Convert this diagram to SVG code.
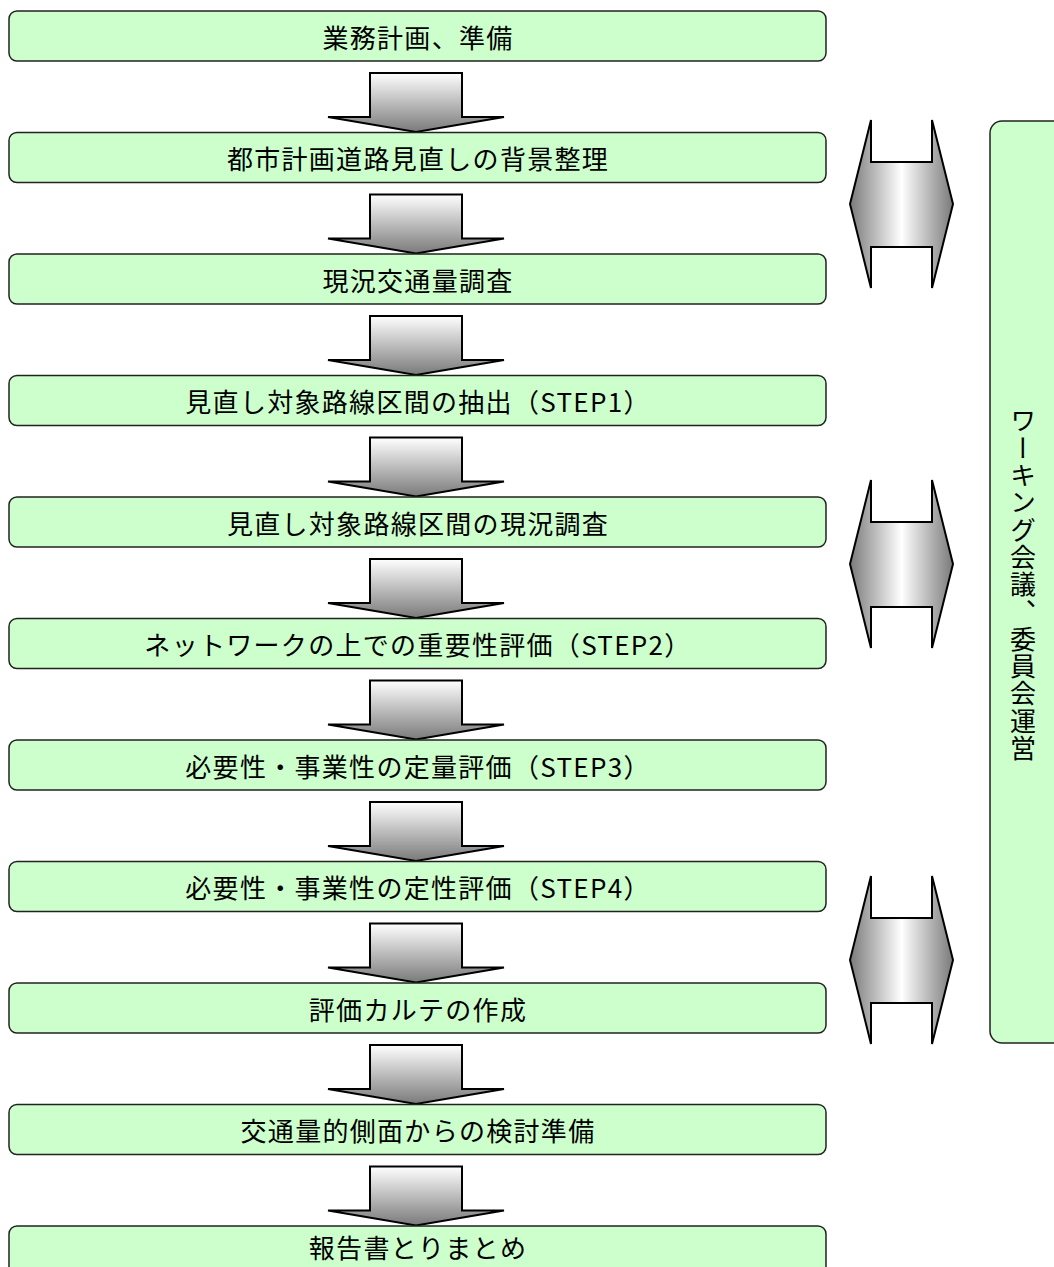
<svg xmlns="http://www.w3.org/2000/svg" width="1054" height="1267" viewBox="0 0 1054 1267">
<style>
.box{fill:#ccffcc;stroke:#222;stroke-width:1.5}
.lbl{font-family:"Noto Sans CJK JP","Noto Sans CJK SC",sans-serif;font-size:26px;letter-spacing:1.3px;fill:#000;text-anchor:middle;dominant-baseline:central}
.down{fill:url(#gv);stroke:#000;stroke-width:2;stroke-linejoin:miter}
.dbl{fill:url(#gh);stroke:#000;stroke-width:2;stroke-linejoin:miter}
</style>
<defs>
<linearGradient id="gv" x1="0" y1="0" x2="0" y2="1">
<stop offset="0" stop-color="#ffffff"/>
<stop offset="1" stop-color="#7a7a7a"/>
</linearGradient>
<linearGradient id="gh" x1="0" y1="0" x2="1" y2="0">
<stop offset="0" stop-color="#7a7a7a"/>
<stop offset="0.5" stop-color="#ffffff"/>
<stop offset="1" stop-color="#7a7a7a"/>
</linearGradient>
<polygon id="darrow" points="370,73 462,73 462,117 504,117 416,132 328,117 370,117"/>
<polygon id="harrow" points="871,120 871,162 932,162 932,120 953,204 932,288 932,247 871,247 871,288 850,204"/>
</defs>
<rect width="1054" height="1267" fill="#ffffff"/>
<g id="connectors">
<use href="#darrow" class="down"/>
<use href="#darrow" class="down" transform="translate(0,121.5)"/>
<use href="#darrow" class="down" transform="translate(0,243)"/>
<use href="#darrow" class="down" transform="translate(0,364.5)"/>
<use href="#darrow" class="down" transform="translate(0,486)"/>
<use href="#darrow" class="down" transform="translate(0,607.5)"/>
<use href="#darrow" class="down" transform="translate(0,729)"/>
<use href="#darrow" class="down" transform="translate(0,850.5)"/>
<use href="#darrow" class="down" transform="translate(0,972)"/>
<use href="#darrow" class="down" transform="translate(0,1093.5)"/>
<use href="#harrow" class="dbl"/>
<use href="#harrow" class="dbl" transform="translate(0,360)"/>
<use href="#harrow" class="dbl" transform="translate(0,756)"/>
</g>
<g id="n1"><rect class="box" x="9" y="11" width="817" height="50" rx="8"/><text class="lbl" x="418" y="36">業務計画、準備</text></g>
<g id="n2"><rect class="box" x="9" y="132.5" width="817" height="50" rx="8"/><text class="lbl" x="418" y="157.5">都市計画道路見直しの背景整理</text></g>
<g id="n3"><rect class="box" x="9" y="254" width="817" height="50" rx="8"/><text class="lbl" x="418" y="279">現況交通量調査</text></g>
<g id="n4"><rect class="box" x="9" y="375.5" width="817" height="50" rx="8"/><text class="lbl" x="418" y="400.5">見直し対象路線区間の抽出（STEP1）</text></g>
<g id="n5"><rect class="box" x="9" y="497" width="817" height="50" rx="8"/><text class="lbl" x="418" y="522">見直し対象路線区間の現況調査</text></g>
<g id="n6"><rect class="box" x="9" y="618.5" width="817" height="50" rx="8"/><text class="lbl" x="418" y="643.5">ネットワークの上での重要性評価（STEP2）</text></g>
<g id="n7"><rect class="box" x="9" y="740" width="817" height="50" rx="8"/><text class="lbl" x="418" y="765">必要性・事業性の定量評価（STEP3）</text></g>
<g id="n8"><rect class="box" x="9" y="861.5" width="817" height="50" rx="8"/><text class="lbl" x="418" y="886.5">必要性・事業性の定性評価（STEP4）</text></g>
<g id="n9"><rect class="box" x="9" y="983" width="817" height="50" rx="8"/><text class="lbl" x="418" y="1008">評価カルテの作成</text></g>
<g id="n10"><rect class="box" x="9" y="1104.5" width="817" height="50" rx="8"/><text class="lbl" x="418" y="1129.5">交通量的側面からの検討準備</text></g>
<g id="n11"><rect class="box" x="9" y="1226" width="817" height="50" rx="8"/><text class="lbl" x="418" y="1246">報告書とりまとめ</text></g>
<g id="n12"><rect class="box" x="990" y="121" width="90" height="922" rx="12"/><text class="lbl" x="1023" y="585" style="writing-mode:vertical-rl">ワーキング会議、委員会運営</text></g>
</svg>
